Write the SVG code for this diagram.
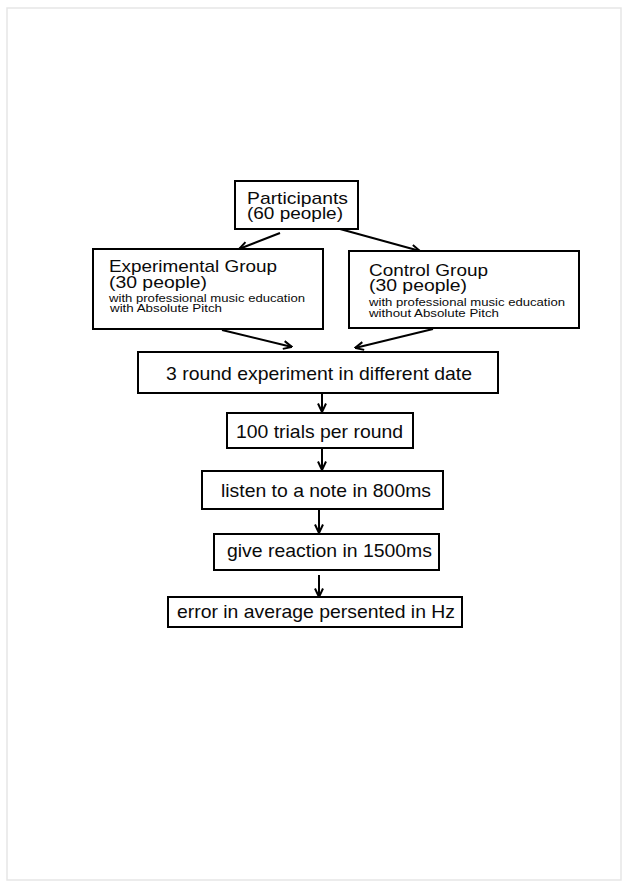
<svg xmlns="http://www.w3.org/2000/svg" width="632" height="888" viewBox="0 0 632 888">
<style>
.box{fill:#fff;stroke:#000;stroke-width:2}
.t{font-family:"Liberation Sans",Arial,sans-serif;fill:#0a0a0a}
.b{font-size:17px}
.s{font-size:10.5px}
.f{font-size:18.5px}
.c{stroke:#000;stroke-width:2;fill:none;marker-end:url(#ah)}
</style>
<defs>
<marker id="ah" viewBox="0 0 10 10" refX="9.5" refY="5" markerWidth="10" markerHeight="10" markerUnits="userSpaceOnUse" orient="auto">
<path d="M1,1 L9.5,5 L1,9" fill="none" stroke="#000" stroke-width="2"/>
</marker>
</defs>
<rect x="0" y="0" width="632" height="888" fill="#fff"/>
<rect x="7" y="8" width="614" height="872" fill="#fff" stroke="#e6e6e6" stroke-width="1.5"/>

<g id="connectors">
<line class="c" x1="280" y1="233" x2="239" y2="249"/>
<line class="c" x1="340" y1="229" x2="420" y2="251"/>
<line class="c" x1="222" y1="330" x2="292" y2="347"/>
<line class="c" x1="433" y1="329" x2="355" y2="348"/>
<line class="c" x1="322" y1="390" x2="322" y2="412"/>
<line class="c" x1="322" y1="448" x2="322" y2="470"/>
<line class="c" x1="319" y1="509" x2="319" y2="533"/>
<line class="c" x1="319" y1="575" x2="319" y2="597"/>
</g>

<g id="participants">
<rect class="box" x="235" y="181" width="123" height="48"/>
<text class="t b"><tspan x="247" y="204" textLength="101" lengthAdjust="spacingAndGlyphs">Participants</tspan><tspan x="247" y="219" textLength="96" lengthAdjust="spacingAndGlyphs">(60 people)</tspan></text>
</g>

<g id="experimental">
<rect class="box" x="93" y="249" width="230" height="80"/>
<text class="t b"><tspan x="109" y="272" textLength="168" lengthAdjust="spacingAndGlyphs">Experimental Group</tspan><tspan x="109" y="288" textLength="98" lengthAdjust="spacingAndGlyphs">(30 people)</tspan><tspan class="s" x="109" y="302" textLength="196" lengthAdjust="spacingAndGlyphs">with professional music education</tspan><tspan class="s" x="110" y="312" textLength="112" lengthAdjust="spacingAndGlyphs">with Absolute Pitch</tspan></text>
</g>

<g id="control">
<rect class="box" x="349" y="251" width="230" height="77"/>
<text class="t b"><tspan x="369" y="276" textLength="119" lengthAdjust="spacingAndGlyphs">Control Group</tspan><tspan x="369" y="291" textLength="98" lengthAdjust="spacingAndGlyphs">(30 people)</tspan><tspan class="s" x="369" y="306" textLength="196" lengthAdjust="spacingAndGlyphs">with professional music education</tspan><tspan class="s" x="369" y="317" textLength="130" lengthAdjust="spacingAndGlyphs">without Absolute Pitch</tspan></text>
</g>

<g id="rounds">
<rect class="box" x="138" y="352" width="360" height="41"/>
<text class="t" style="font-size:19px" x="166" y="380" textLength="306" lengthAdjust="spacingAndGlyphs">3 round experiment in different date</text>
</g>

<g id="trials">
<rect class="box" x="227" y="413" width="186" height="35"/>
<text class="t f" x="236" y="438" textLength="167" lengthAdjust="spacingAndGlyphs">100 trials per round</text>
</g>

<g id="listen">
<rect class="box" x="202" y="471" width="241" height="38"/>
<text class="t f" x="221" y="497" textLength="210" lengthAdjust="spacingAndGlyphs">listen to a note in 800ms</text>
</g>

<g id="reaction">
<rect class="box" x="214" y="534" width="225" height="36"/>
<text class="t f" x="227" y="557" textLength="205" lengthAdjust="spacingAndGlyphs">give reaction in 1500ms</text>
</g>

<g id="error">
<rect class="box" x="168" y="597" width="294" height="30"/>
<text class="t f" x="177" y="618" textLength="278" lengthAdjust="spacingAndGlyphs">error in average persented in Hz</text>
</g>
</svg>
